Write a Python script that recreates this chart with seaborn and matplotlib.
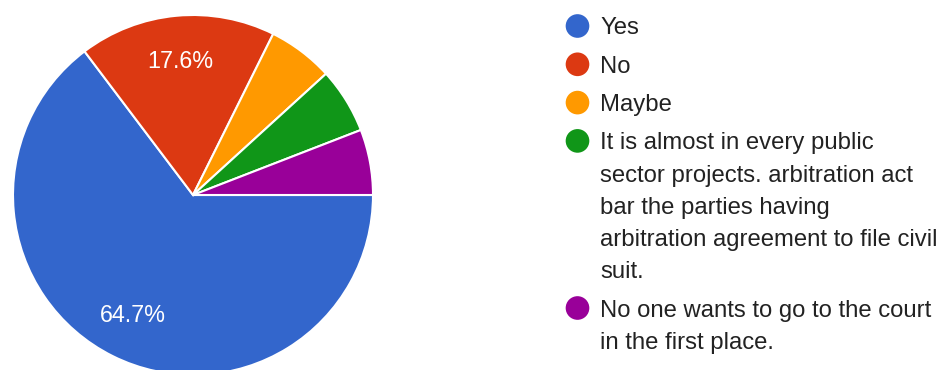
import matplotlib
matplotlib.use("Agg")
import matplotlib.pyplot as plt
import seaborn as sns

# Survey responses (counts) and their labels
categories = [
    "Yes",
    "No",
    "Maybe",
    "It is almost in every public\nsector projects. arbitration act\nbar the parties having\narbitration agreement to file civil\nsuit.",
    "No one wants to go to the court\nin the first place.",
]
counts = [11, 3, 1, 1, 1]
colors = ["#3366cc", "#dc3912", "#ff9900", "#109618", "#990099"]

sns.set_theme(style="white")
plt.rcParams["font.family"] = ["Liberation Sans", "DejaVu Sans"]

W, H = 948, 370
fig = plt.figure(figsize=(W / 100, H / 100), dpi=100)
fig.patch.set_facecolor("white")

# Pie: center at (193, 195) px, radius 180 px
cx, cy, r = 193, 195, 180
ax = fig.add_axes([(cx - r) / W, (H - cy - r) / H, 2 * r / W, 2 * r / H])
palette = sns.color_palette(colors)


def pct_label(p):
    return f"{p:.1f}%" if p >= 10 else ""


ax.pie(
    counts,
    colors=palette,
    startangle=0,
    counterclock=False,
    autopct=pct_label,
    pctdistance=0.745,
    wedgeprops=dict(edgecolor="white", linewidth=1.5),
    textprops=dict(color="white", fontsize=16.8),
)
ax.set_xlim(-1, 1)
ax.set_ylim(-1, 1)
ax.axis("off")

# Legend drawn in pixel coordinates
lax = fig.add_axes([0, 0, 1, 1])
lax.set_xlim(0, W)
lax.set_ylim(H, 0)
lax.axis("off")

y = 26.0
line_h = 32.2
item_gap = 38.3
for cat, col in zip(categories, palette):
    lax.scatter([577.5], [y], s=290, color=col, edgecolor="none", zorder=3)
    lines = cat.split("\n")
    for i, line in enumerate(lines):
        lax.text(600, y + i * line_h + 8.5, line, fontsize=17.2, color="#222222",
                 va="baseline", ha="left")
    y += (len(lines) - 1) * line_h + item_gap

fig.savefig("out.png", dpi=100, facecolor="white")
